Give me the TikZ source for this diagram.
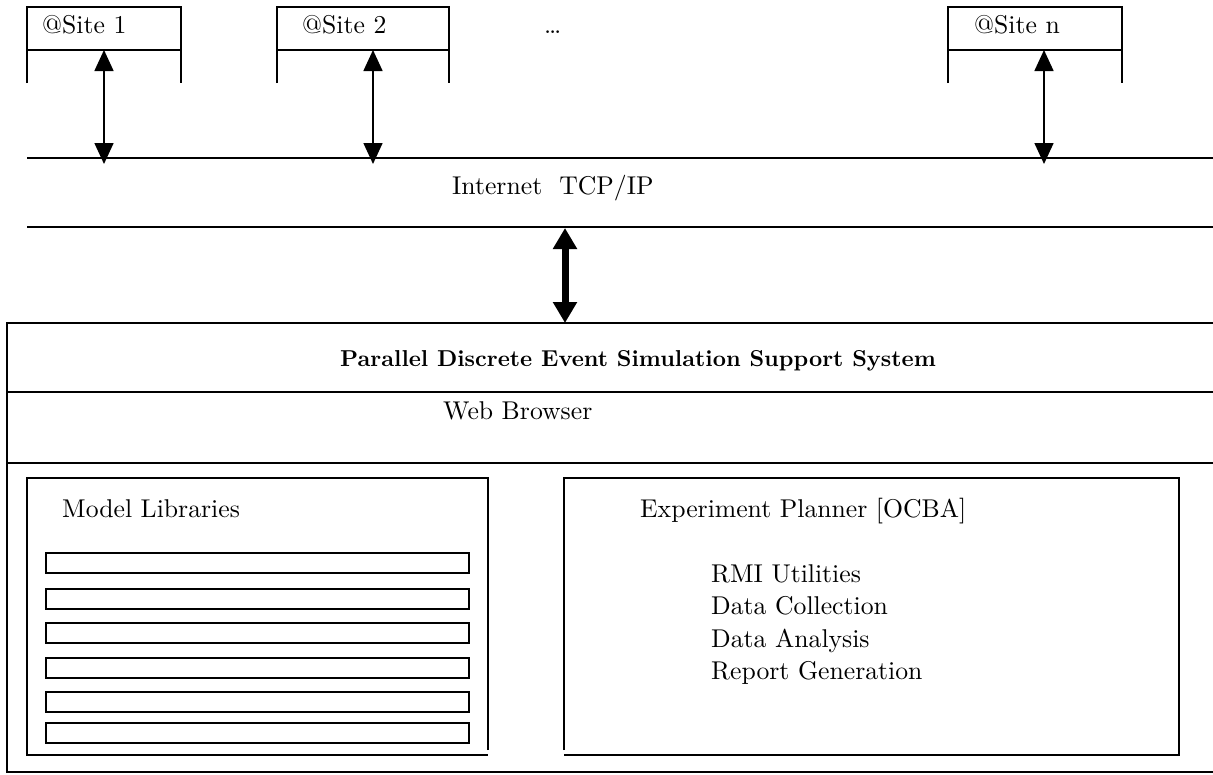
\documentclass[tikz,border=0pt]{standalone}
\usepackage{fontspec}
\setmainfont{lmroman10-regular}[Extension=.otf,BoldFont=lmroman10-bold]
\usetikzlibrary{arrows.meta}
\begin{document}
\begin{tikzpicture}[x=1pt,y=-1pt,
  ln/.style={line width=1.6pt},
  bar/.style={line width=1.6pt},
  lbl/.style={anchor=base west,inner sep=0pt,font=\fontsize{25.7}{30}\selectfont},
  ttl/.style={anchor=base,inner sep=0pt,font=\fontsize{23}{28}\selectfont\bfseries},
  sarrow/.style={line width=1.6pt,{Triangle[length=21pt,width=19pt]}-{Triangle[length=21pt,width=19pt]}},
  barrow/.style={line width=7pt,{Triangle[length=21pt,width=23pt]}-{Triangle[length=21pt,width=23pt]}}]
\useasboundingbox (0,0) rectangle (1213,774);
% site boxes
\draw[ln] (27,83) -- (27,7) -- (181,7) -- (181,83) (27,50) -- (181,50);
\draw[ln] (277,83) -- (277,7) -- (449,7) -- (449,83) (277,50) -- (449,50);
\draw[ln] (948,83) -- (948,7) -- (1122,7) -- (1122,83) (948,50) -- (1122,50);
\node[lbl] (site1) at (42,33) {@Site 1};
\node[lbl] (site2) at (302,33) {@Site 2};
\node[lbl] (dots) at (544,33) {\dots};
\node[lbl] (siten) at (974,33) {@Site n};
% internet lines
\draw[ln] (27,158) -- (1213,158);
\draw[ln] (27,227) -- (1213,227);
\node[lbl] (inet) at (452,194) {Internet\ \ TCP/IP};
% site arrows
\coordinate (s1a) at (104,50); \coordinate (s1b) at (104,164);
\coordinate (s2a) at (373,50); \coordinate (s2b) at (373,164);
\coordinate (sna) at (1044,50); \coordinate (snb) at (1044,164);
\draw[sarrow] (s1a) -- (s1b);
\draw[sarrow] (s2a) -- (s2b);
\draw[sarrow] (sna) -- (snb);
% thick arrow
\coordinate (ta) at (565,228); \coordinate (tb) at (565,323);
\draw[barrow] (ta) -- (tb);
% big box
\draw[ln] (1213,323) -- (7,323) -- (7,772) -- (1213,772);
\draw[ln] (7,392) -- (1213,392);
\draw[ln] (7,463) -- (1213,463);
\node[ttl] (title) at (638,366) {Parallel Discrete Event Simulation Support System};
\node[lbl] (web) at (443,419) {Web Browser};
% model libraries
\draw[ln] (488,750) -- (488,478) -- (27,478) -- (27,755) -- (488,755);
\node[lbl] (ml) at (62,517) {Model Libraries};
\foreach \t in {553,589,623,658,692,723} \draw[bar] (46,\t) rectangle (469,\t+20);
% experiment planner
\draw[ln] (564,750) -- (564,478) -- (1179,478) -- (1179,755) -- (564,755);
\node[lbl] (ep) at (640,517) {Experiment Planner [OCBA]};
\node[lbl] (l1) at (711,582) {RMI Utilities};
\node[lbl] (l2) at (711,614) {Data Collection};
\node[lbl] (l3) at (711,647) {Data Analysis};
\node[lbl] (l4) at (711,679) {Report Generation};
\end{tikzpicture}
\end{document}
